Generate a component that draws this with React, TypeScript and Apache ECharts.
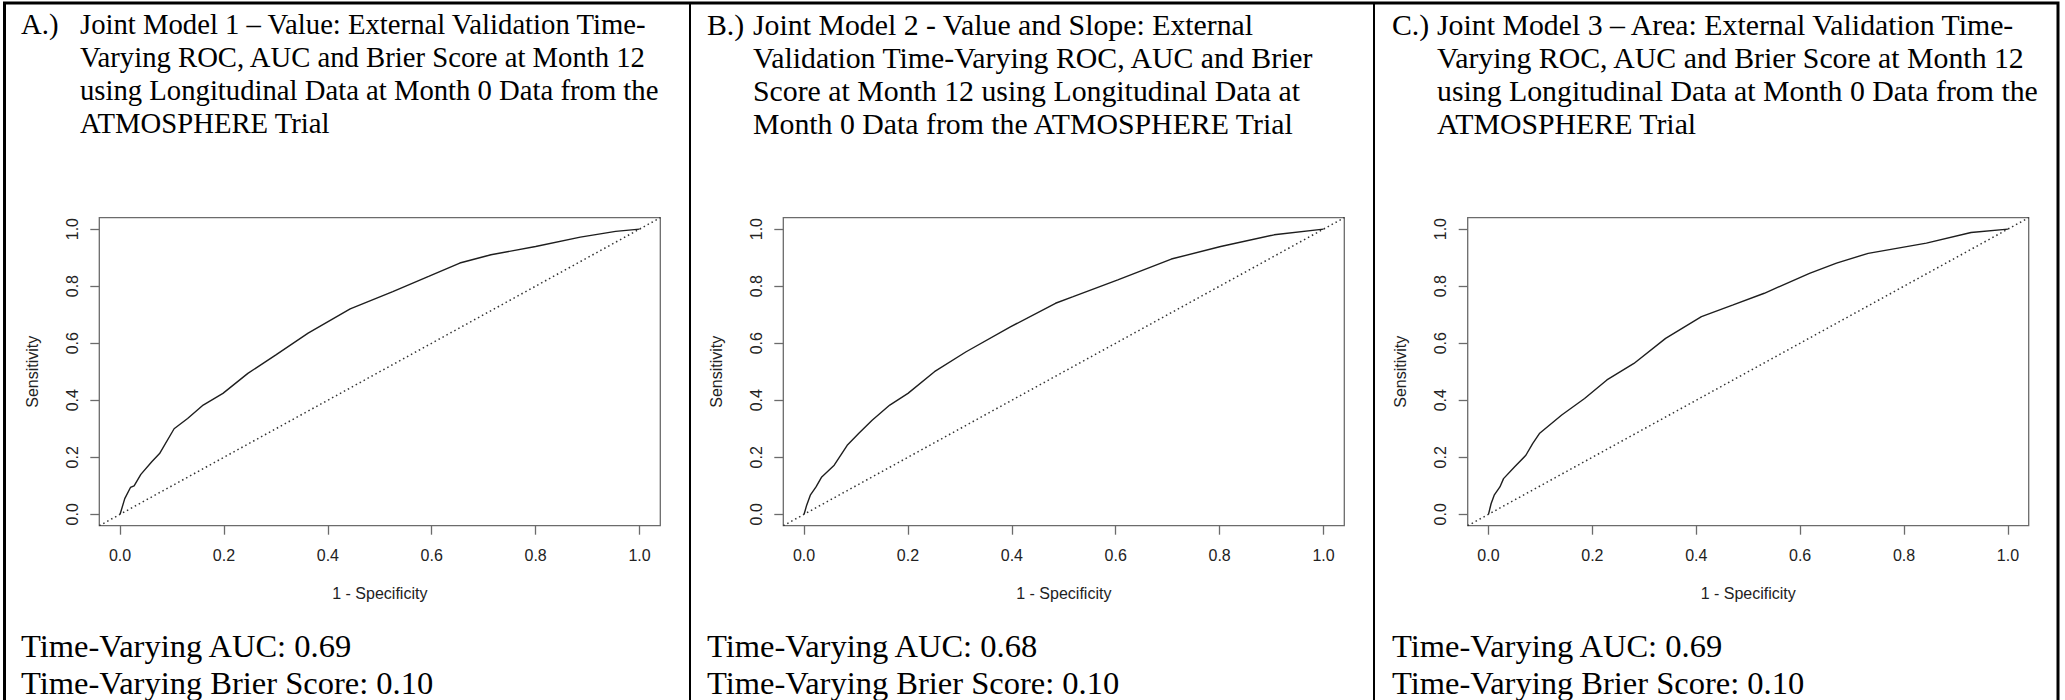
import React, { useEffect, useRef } from "react";
import * as echarts from "echarts";

// ---- data ----
const TICKS = [0, 0.2, 0.4, 0.6, 0.8, 1.0];
const AXIS_MIN = -0.04;
const AXIS_MAX = 1.04;

const panelLabels = ["A.)", "B.)", "C.)"];

const titleA = [
  "Joint Model 1 \u2013 Value: External Validation Time-",
  "Varying ROC, AUC and Brier Score at Month 12",
  "using Longitudinal Data at Month 0 Data from the",
  "ATMOSPHERE Trial",
];
const titleB = [
  "Joint Model 2 - Value and Slope: External",
  "Validation Time-Varying ROC, AUC and Brier",
  "Score at Month 12 using Longitudinal Data at",
  "Month 0 Data from the ATMOSPHERE Trial",
];
const titleC = [
  "Joint Model 3 \u2013 Area: External Validation Time-",
  "Varying ROC, AUC and Brier Score at Month 12",
  "using Longitudinal Data at Month 0 Data from the",
  "ATMOSPHERE Trial",
];

const aucValues = ["0.69", "0.68", "0.69"];
const brierValues = ["0.10", "0.10", "0.10"];

// [1 - specificity, sensitivity]
const rocA: number[][] = [
  [0, 0], [0.009, 0.055], [0.02, 0.094], [0.027, 0.1], [0.04, 0.14],
  [0.061, 0.184], [0.076, 0.213], [0.104, 0.3], [0.13, 0.336], [0.16, 0.383],
  [0.198, 0.424], [0.246, 0.494], [0.3, 0.559], [0.362, 0.635], [0.443, 0.72],
  [0.525, 0.781], [0.594, 0.834], [0.654, 0.881], [0.714, 0.91], [0.8, 0.939],
  [0.886, 0.972], [0.954, 0.992], [1, 1],
];
const rocB: number[][] = [
  [0, 0], [0.005, 0.032], [0.012, 0.067], [0.023, 0.096], [0.034, 0.131],
  [0.058, 0.172], [0.083, 0.242], [0.105, 0.283], [0.131, 0.33], [0.165, 0.383],
  [0.2, 0.424], [0.251, 0.5], [0.312, 0.57], [0.398, 0.658], [0.484, 0.74],
  [0.518, 0.763], [0.604, 0.822], [0.707, 0.895], [0.802, 0.939], [0.905, 0.98],
  [1, 1],
];
const rocC: number[][] = [
  [0, 0], [0.005, 0.037], [0.011, 0.067], [0.022, 0.096], [0.029, 0.125],
  [0.05, 0.166], [0.072, 0.207], [0.085, 0.248], [0.098, 0.283], [0.141, 0.348],
  [0.185, 0.406], [0.228, 0.471], [0.28, 0.529], [0.341, 0.617], [0.41, 0.693],
  [0.471, 0.734], [0.531, 0.775], [0.618, 0.845], [0.67, 0.881], [0.731, 0.915],
  [0.843, 0.951], [0.929, 0.988], [1, 1],
];
const chanceLine: number[][] = [[AXIS_MIN, AXIS_MIN], [AXIS_MAX, AXIS_MAX]];

const xAxisTitle = "1 - Specificity";
const yAxisTitle = "Sensitivity";

// ---- layout ----
const W = 2065;
const H = 700;
const panelLeft = [4, 690, 1374];
const gridLeft = [99.3, 783.3, 1467.7];
const gridWidth = 561;
const gridTop = 217.7;
const gridHeight = 308;
const labelIndent = [17, 17, 18];
const textIndent = [76, 63, 63];
const titleFont = [28.7, 29.8, 29.8];

const SERIF = "'Liberation Serif', 'Times New Roman', serif";
const SANS = "'Liberation Sans', Arial, Helvetica, sans-serif";
const BOX = "#6b6b6b";

export default function App() {
  const ref = useRef<HTMLDivElement>(null);

  useEffect(() => {
    if (!ref.current) return;
    const chart = echarts.init(ref.current, undefined, { renderer: "svg" });
    const rocs = [rocA, rocB, rocC];
    const titles = [titleA, titleB, titleC];

    const grids = [0, 1, 2].map((i) => ({
      left: gridLeft[i],
      top: gridTop,
      width: gridWidth,
      height: gridHeight,
      show: true,
      borderColor: BOX,
      borderWidth: 1.3,
      backgroundColor: "transparent",
    }));

    const xAxes = [0, 1, 2].map((i) => ({
      type: "value",
      gridIndex: i,
      min: AXIS_MIN,
      max: AXIS_MAX,
      splitLine: { show: false },
      axisLine: { show: false, onZero: false },
      axisTick: { show: true, customValues: TICKS, length: 9, lineStyle: { color: BOX, width: 1.3 } },
      axisLabel: {
        customValues: TICKS,
        formatter: (v: number) => v.toFixed(1),
        fontFamily: SANS,
        fontSize: 16,
        color: "#222",
        margin: 22,
      },
      name: xAxisTitle,
      nameLocation: "middle",
      nameGap: 60,
      nameTextStyle: { fontFamily: SANS, fontSize: 16, color: "#222" },
    }));

    const yAxes = [0, 1, 2].map((i) => ({
      type: "value",
      gridIndex: i,
      min: AXIS_MIN,
      max: AXIS_MAX,
      splitLine: { show: false },
      axisLine: { show: false, onZero: false },
      axisTick: { show: true, customValues: TICKS, length: 9, lineStyle: { color: BOX, width: 1.3 } },
      axisLabel: {
        customValues: TICKS,
        formatter: (v: number) => v.toFixed(1),
        rotate: 90,
        fontFamily: SANS,
        fontSize: 16,
        color: "#222",
        margin: 19,
      },
      name: yAxisTitle,
      nameLocation: "middle",
      nameGap: 59,
      nameTextStyle: { fontFamily: SANS, fontSize: 16, color: "#222" },
    }));

    const series: any[] = [];
    [0, 1, 2].forEach((i) => {
      series.push({
        type: "line",
        xAxisIndex: i,
        yAxisIndex: i,
        data: rocs[i],
        showSymbol: false,
        symbol: "none",
        lineStyle: { color: "#1e1e1e", width: 1.4 },
        silent: true,
      });
      series.push({
        type: "line",
        xAxisIndex: i,
        yAxisIndex: i,
        data: chanceLine,
        showSymbol: false,
        symbol: "none",
        clip: true,
        lineStyle: { color: "#333", width: 1.5, type: [1.5, 3] },
        silent: true,
      });
    });

    const graphics: any[] = [
      {
        type: "rect",
        shape: { x: 4.5, y: 3, width: 2053.5, height: 720 },
        style: { fill: "none", stroke: "#000", lineWidth: 3 },
        silent: true,
      },
      {
        type: "line",
        shape: { x1: 690, y1: 3, x2: 690, y2: 710 },
        style: { stroke: "#000", lineWidth: 2 },
      },
      {
        type: "line",
        shape: { x1: 1374, y1: 3, x2: 1374, y2: 710 },
        style: { stroke: "#000", lineWidth: 2 },
      },
    ];
    [0, 1, 2].forEach((i) => {
      graphics.push({
        type: "text",
        x: panelLeft[i] + labelIndent[i],
        y: 24,
        style: {
          text: panelLabels[i],
          fontFamily: SERIF,
          fontSize: titleFont[i],
          fill: "#000",
          verticalAlign: "middle",
        },
      });
      titles[i].forEach((line, k) => {
        graphics.push({
          type: "text",
          x: panelLeft[i] + textIndent[i],
          y: 24 + k * 33,
          style: {
            text: line,
            fontFamily: SERIF,
            fontSize: titleFont[i],
            fill: "#000",
            verticalAlign: "middle",
          },
        });
      });
      graphics.push({
        type: "text",
        x: panelLeft[i] + labelIndent[i],
        y: 646,
        style: {
          text: "Time-Varying AUC: " + aucValues[i],
          fontFamily: SERIF,
          fontSize: 32.5,
          fill: "#000",
          verticalAlign: "middle",
        },
      });
      graphics.push({
        type: "text",
        x: panelLeft[i] + labelIndent[i],
        y: 683,
        style: {
          text: "Time-Varying Brier Score: " + brierValues[i],
          fontFamily: SERIF,
          fontSize: 32.5,
          fill: "#000",
          verticalAlign: "middle",
        },
      });
    });

    chart.setOption({
      animation: false,
      backgroundColor: "#fff",
      grid: grids,
      xAxis: xAxes,
      yAxis: yAxes,
      series,
      graphic: graphics,
    });
    return () => chart.dispose();
  }, []);

  return (
    <div
      ref={ref}
      style={{ position: "absolute", left: 0, top: 0, width: W, height: H }}
    />
  );
}
